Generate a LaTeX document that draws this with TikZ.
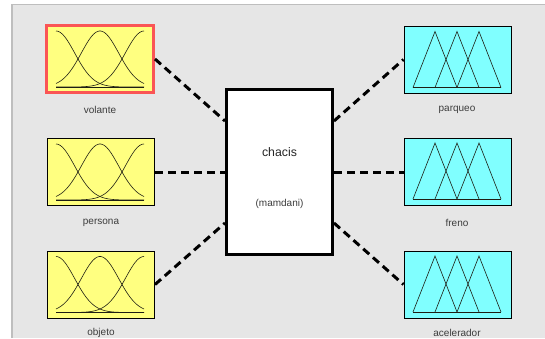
\documentclass[tikz,border=0pt]{standalone}
\usepackage{fontspec}
\setmainfont{Liberation Sans}
\usetikzlibrary{calc}
\definecolor{panel}{RGB}{230,230,230}
\definecolor{rulegray}{RGB}{190,190,190}
\definecolor{inyellow}{RGB}{255,255,128}
\definecolor{outcyan}{RGB}{128,255,255}
\definecolor{selred}{RGB}{250,85,85}
\definecolor{labelgray}{RGB}{60,60,60}
\definecolor{curveink}{RGB}{30,30,20}

% Gaussian membership functions inside an input box centred at (#1,#2)
\newcommand{\gaussset}[2]{%
  \begin{scope}[shift={(#1,#2)}, curveink, line width=0.6pt]
    \draw (-44,28) -- (44,28);
    \draw plot[domain=-44:44, samples=60, smooth] (\x, {28 - 56*exp(-((\x)+44)*((\x)+44)/699)});
    \draw plot[domain=-44:44, samples=60, smooth] (\x, {28 - 56*exp(-(\x)*(\x)/699)});
    \draw plot[domain=-44:44, samples=60, smooth] (\x, {28 - 56*exp(-((\x)-44)*((\x)-44)/699)});
  \end{scope}}
% Triangular membership functions inside an output box centred at (#1,#2)
\newcommand{\triset}[2]{%
  \begin{scope}[shift={(#1,#2)}, curveink, line width=0.6pt]
    \draw (-44,28) -- (44,28);
    \draw (-44,28) -- (-22,-28) -- (0,28);
    \draw (-22,28) -- (0,-28) -- (22,28);
    \draw (0,28) -- (22,-28) -- (44,28);
  \end{scope}}

\begin{document}
\begin{tikzpicture}[x=1pt, y=-1pt,
  inbox/.style={draw=black, line width=1pt, fill=inyellow, minimum width=107pt, minimum height=67pt, inner sep=0pt},
  outbox/.style={draw=black, line width=1pt, fill=outcyan, minimum width=107pt, minimum height=67pt, inner sep=0pt},
  sysbox/.style={draw=black, line width=3pt, fill=white, minimum width=106pt, minimum height=165pt, inner sep=0pt},
  lbl/.style={text=labelgray, font=\fontsize{10}{12}\selectfont, inner sep=0pt},
  link/.style={line width=3pt, dash pattern=on 8pt off 5pt}]
  \useasboundingbox (0,0) rectangle (545,338);
  \fill[white] (0,0) rectangle (545,338);
  \fill[panel] (12,5) rectangle (545,338);
  \draw[rulegray, line width=1.2pt] (12,338) -- (12,4.6) -- (545,4.6);

  % inputs
  \node[inbox, draw=selred, line width=3pt] (vol) at (100,59) {};
  \node[inbox] (per) at (101,172) {};
  \node[inbox] (obj) at (101,284.5) {};
  \gaussset{100}{59}
  \gaussset{100}{172}
  \gaussset{100}{284.5}

  % outputs
  \node[outbox] (par) at (457.5,59.5) {};
  \node[outbox] (fre) at (457.5,172) {};
  \node[outbox] (ace) at (457.5,284.5) {};
  \triset{457}{59.5}
  \triset{457}{171}
  \triset{457}{284}

  % fuzzy system
  \node[sysbox] (sys) at (279.5,172) {};
  \node[text=black!85, font=\fontsize{12.3}{14}\selectfont] (nm) at (279.5,152) {chacis};
  \node[lbl] (typ) at (279.5,204) {(mamdani)};

  \coordinate (sysWn) at ($(sys.west)+(0,-51)$);
  \coordinate (sysWs) at ($(sys.west)+(0,51)$);
  \coordinate (sysEn) at ($(sys.east)+(0,-51)$);
  \coordinate (sysEs) at ($(sys.east)+(0,51)$);

  % connectors
  \draw[link] (vol.east) -- (sysWn);
  \draw[link] (per.east) -- (sys.west);
  \draw[link] (obj.east) -- (sysWs);
  \draw[link] (sysEn) -- (par.west);
  \draw[link] (sys.east) -- (fre.west);
  \draw[link] (sysEs) -- (ace.west);

  % labels
  \node[lbl] (lvol) at (100,110) {volante};
  \node[lbl] (lper) at (101,223) {persona};
  \node[lbl] (lobj) at (101,332.5) {objeto};
  \node[lbl] (lpar) at (457,110) {parqueo};
  \node[lbl] (lfre) at (457,223) {freno};
  \node[lbl] (lace) at (457,332.5) {acelerador};
\end{tikzpicture}
\end{document}
